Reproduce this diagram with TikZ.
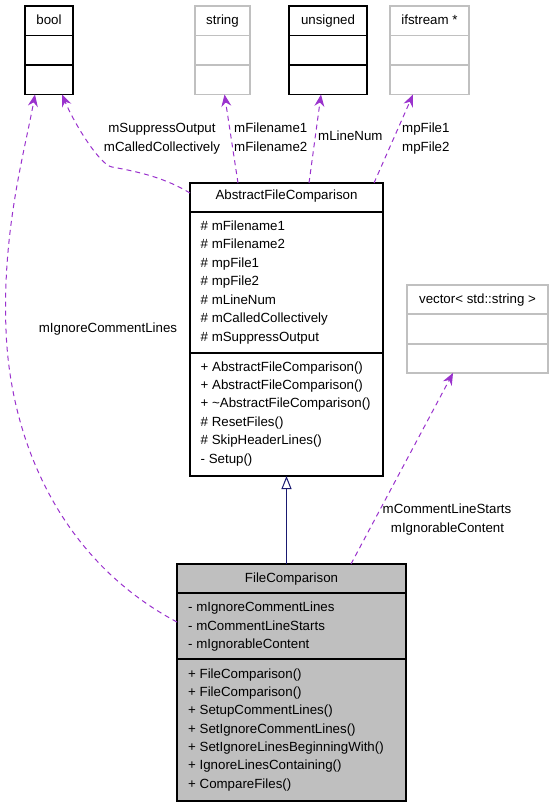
\documentclass[tikz,border=0pt]{standalone}
\usepackage{fontspec}
\setmainfont{Liberation Sans}
\usetikzlibrary{arrows.meta}
\definecolor{usepurple}{HTML}{9A32CD}
\definecolor{fcgray}{HTML}{BFBFBF}
\definecolor{ghostgray}{HTML}{C0C0C0}
\definecolor{inhnavy}{HTML}{191970}
\begin{document}
\begin{tikzpicture}[x=1pt,y=-1pt,
  every node/.style={font=\fontsize{13.3}{16}\selectfont, inner sep=0pt},
  boxnode/.style={line width=1.1pt, anchor=north west, inner sep=0pt, outer sep=0pt},
  solidbox/.style={boxnode, draw=black},
  ghostbox/.style={boxnode, draw=ghostgray},
  solidsep/.style={draw=black, line width=1.1pt},
  ghostsep/.style={draw=ghostgray, line width=1.1pt},
  useedge/.style={draw=usepurple, line width=1pt, dash pattern=on 5pt off 4pt,
    -{Stealth[length=12pt,width=10pt,inset=4pt,fill=usepurple]}},
  inhedge/.style={draw=inhnavy, line width=1pt,
    -{Triangle[open,length=13pt,width=10pt,fill=white]}},
  member/.style={anchor=base west},
  classtitle/.style={anchor=base},
  edgetext/.style={anchor=base},
  edgetextl/.style={anchor=base west}]
\useasboundingbox (0,0) rectangle (554,808);

% ---- bool
\node[solidbox, minimum width=48pt, minimum height=88.5pt] (bool) at (25,6) {};
\draw[solidsep] ([yshift=-29.5pt]bool.north west) -- ([yshift=-29.5pt]bool.north east);
\draw[solidsep] ([yshift=-59pt]bool.north west) -- ([yshift=-59pt]bool.north east);
\node[classtitle] (booltitle) at (49,24.5) {bool};

% ---- string
\node[ghostbox, minimum width=55pt, minimum height=88.5pt] (string) at (195,6) {};
\draw[ghostsep] ([yshift=-29.5pt]string.north west) -- ([yshift=-29.5pt]string.north east);
\draw[ghostsep] ([yshift=-59pt]string.north west) -- ([yshift=-59pt]string.north east);
\node[classtitle] (stringtitle) at (222.5,24.5) {string};

% ---- unsigned
\node[solidbox, minimum width=78pt, minimum height=88.5pt] (unsigned) at (289,6) {};
\draw[solidsep] ([yshift=-29.5pt]unsigned.north west) -- ([yshift=-29.5pt]unsigned.north east);
\draw[solidsep] ([yshift=-59pt]unsigned.north west) -- ([yshift=-59pt]unsigned.north east);
\node[classtitle] (unsignedtitle) at (328,24.5) {unsigned};

% ---- ifstream
\node[ghostbox, minimum width=79pt, minimum height=88.5pt] (ifstream) at (390,6) {};
\draw[ghostsep] ([yshift=-29.5pt]ifstream.north west) -- ([yshift=-29.5pt]ifstream.north east);
\draw[ghostsep] ([yshift=-59pt]ifstream.north west) -- ([yshift=-59pt]ifstream.north east);
\node[classtitle] (ifstreamtitle) at (429.5,24.5) {ifstream *};

% ---- vector
\node[ghostbox, minimum width=141pt, minimum height=88pt] (vector) at (407,285) {};
\draw[ghostsep] ([yshift=-29pt]vector.north west) -- ([yshift=-29pt]vector.north east);
\draw[ghostsep] ([yshift=-59pt]vector.north west) -- ([yshift=-59pt]vector.north east);
\node[classtitle] (vectortitle) at (477.5,303) {vector< std::string >};

% ---- AbstractFileComparison
\node[solidbox, minimum width=193pt, minimum height=293pt] (afc) at (190,183) {};
\draw[solidsep] ([yshift=-29pt]afc.north west) -- ([yshift=-29pt]afc.north east);
\draw[solidsep] ([yshift=-170pt]afc.north west) -- ([yshift=-170pt]afc.north east);
\node[classtitle] (afctitle) at (286.5,199.5) {AbstractFileComparison};
\foreach \t [count=\i] in {\# mFilename1,\# mFilename2,\# mpFile1,\# mpFile2,\# mLineNum,\# mCalledCollectively,\# mSuppressOutput}
  \node[member] (afca\i) at (200.5,{230+(\i-1)*18.55}) {\t};
\foreach \t [count=\i] in {+ AbstractFileComparison(),+ AbstractFileComparison(),+ \textasciitilde AbstractFileComparison(),\# ResetFiles(),\# SkipHeaderLines(),- Setup()}
  \node[member] (afcm\i) at (200.5,{371+(\i-1)*18.46}) {\t};

% ---- FileComparison
\node[solidbox, fill=fcgray, minimum width=229pt, minimum height=237pt] (fc) at (177,564) {};
\draw[solidsep] ([yshift=-29pt]fc.north west) -- ([yshift=-29pt]fc.north east);
\draw[solidsep] ([yshift=-95pt]fc.north west) -- ([yshift=-95pt]fc.north east);
\node[classtitle] (fctitle) at (291.5,582) {FileComparison};
\foreach \t [count=\i] in {- mIgnoreCommentLines,- mCommentLineStarts,- mIgnorableContent}
  \node[member] (fca\i) at (188,{611.7+(\i-1)*18.3}) {\t};
\foreach \t [count=\i] in {+ FileComparison(),+ FileComparison(),+ SetupCommentLines(),+ SetIgnoreCommentLines(),+ SetIgnoreLinesBeginningWith(),+ IgnoreLinesContaining(),+ CompareFiles()}
  \node[member] (fcm\i) at (188,{678.3+(\i-1)*18.33}) {\t};

% ---- connectors
\draw[inhedge] (fc.north -| afc.south) -- (afc.south);

\draw[useedge] ([yshift=-58pt]fc.north west) .. controls (60,560) and (10,440) .. (6,330)
  .. controls (2,230) and (25,150) .. ([xshift=-14pt]bool.south);
\draw[useedge] ([yshift=-10pt]afc.north west) .. controls (165,178) and (140,172) .. (112,167)
  .. controls (100,165) and (75,125) .. ([xshift=13pt]bool.south);
\draw[useedge] ([xshift=-48.5pt]afc.north) -- ([xshift=2pt]string.south);
\draw[useedge] ([xshift=22.5pt]afc.north) -- ([xshift=-7pt]unsigned.south);
\draw[useedge] ([xshift=87.5pt]afc.north) -- ([xshift=-16.5pt]ifstream.south);
\draw[useedge] ([xshift=59.5pt]fc.north) -- ([xshift=-24.5pt]vector.south);

% ---- edge labels
\node[edgetext] (l1) at (162,132) {mSuppressOutput};
\node[edgetext] (l2) at (162,151) {mCalledCollectively};
\node[edgetextl] (l3) at (234,132) {mFilename1};
\node[edgetextl] (l4) at (234,151) {mFilename2};
\node[edgetextl] (l5) at (318,140.5) {mLineNum};
\node[edgetextl] (l6) at (402,132) {mpFile1};
\node[edgetextl] (l7) at (402,151) {mpFile2};
\node[edgetext] (l8) at (108,332) {mIgnoreCommentLines};
\node[edgetext] (l9) at (447,513) {mCommentLineStarts};
\node[edgetext] (l10) at (447.5,532) {mIgnorableContent};
\end{tikzpicture}
\end{document}
